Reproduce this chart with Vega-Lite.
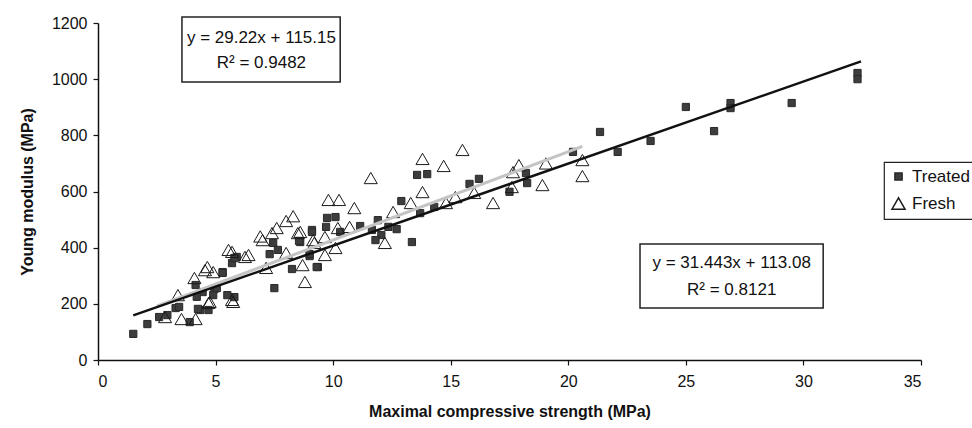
{
  "$schema": "https://vega.github.io/schema/vega-lite/v6.json",
  "width": 823,
  "height": 337,
  "autosize": {"type": "none"},
  "padding": {"left": 98, "top": 23, "right": 51, "bottom": 68},
  "background": "white",
  "config": {
    "view": {"stroke": null},
    "font": "Liberation Sans",
    "axis": {
      "grid": false,
      "domainColor": "#111",
      "domainWidth": 1.5,
      "tickColor": "#111",
      "tickWidth": 1.2,
      "tickSize": 5,
      "labelFont": "Liberation Sans",
      "labelFontSize": 16,
      "labelColor": "#111",
      "titleFont": "Liberation Sans",
      "titleFontSize": 16,
      "titleFontWeight": "bold",
      "titleColor": "#111"
    },
    "legend": {
      "orient": "none",
      "legendX": 786,
      "legendY": 139,
      "strokeColor": "#222",
      "strokeWidth": 1.2,
      "padding": 6,
      "labelFont": "Liberation Sans",
      "labelFontSize": 17,
      "labelOffset": 5,
      "labelColor": "#111",
      "rowPadding": 9,
      "fillColor": "white"
    }
  },
  "datasets": {
    "points": [
      {"x": 23.5, "y": 780, "group": "Treated"},
      {"x": 25.0, "y": 901, "group": "Treated"},
      {"x": 26.2, "y": 815, "group": "Treated"},
      {"x": 26.9, "y": 915, "group": "Treated"},
      {"x": 26.9, "y": 897, "group": "Treated"},
      {"x": 29.5, "y": 915, "group": "Treated"},
      {"x": 32.3, "y": 1022, "group": "Treated"},
      {"x": 32.3, "y": 1000, "group": "Treated"},
      {"x": 21.35, "y": 812, "group": "Treated"},
      {"x": 22.1, "y": 741, "group": "Treated"},
      {"x": 20.2, "y": 741, "group": "Treated"},
      {"x": 16.2, "y": 645, "group": "Treated"},
      {"x": 15.8, "y": 627, "group": "Treated"},
      {"x": 18.2, "y": 666, "group": "Treated"},
      {"x": 18.25, "y": 630, "group": "Treated"},
      {"x": 17.5, "y": 599, "group": "Treated"},
      {"x": 13.57, "y": 659, "group": "Treated"},
      {"x": 14.0, "y": 662, "group": "Treated"},
      {"x": 12.9, "y": 566, "group": "Treated"},
      {"x": 9.74, "y": 506, "group": "Treated"},
      {"x": 10.1, "y": 509, "group": "Treated"},
      {"x": 9.7, "y": 474, "group": "Treated"},
      {"x": 9.1, "y": 463, "group": "Treated"},
      {"x": 11.9, "y": 498, "group": "Treated"},
      {"x": 11.15, "y": 477, "group": "Treated"},
      {"x": 10.3, "y": 456, "group": "Treated"},
      {"x": 11.65, "y": 463, "group": "Treated"},
      {"x": 12.35, "y": 474, "group": "Treated"},
      {"x": 12.7, "y": 466, "group": "Treated"},
      {"x": 12.05, "y": 445, "group": "Treated"},
      {"x": 11.8, "y": 427, "group": "Treated"},
      {"x": 13.35, "y": 420, "group": "Treated"},
      {"x": 13.7, "y": 523, "group": "Treated"},
      {"x": 14.3, "y": 545, "group": "Treated"},
      {"x": 8.6, "y": 420, "group": "Treated"},
      {"x": 9.0, "y": 370, "group": "Treated"},
      {"x": 9.35, "y": 331, "group": "Treated"},
      {"x": 5.9, "y": 367, "group": "Treated"},
      {"x": 5.7, "y": 345, "group": "Treated"},
      {"x": 5.3, "y": 313, "group": "Treated"},
      {"x": 7.45, "y": 417, "group": "Treated"},
      {"x": 7.65, "y": 392, "group": "Treated"},
      {"x": 7.3, "y": 377, "group": "Treated"},
      {"x": 8.55, "y": 424, "group": "Treated"},
      {"x": 9.1, "y": 456, "group": "Treated"},
      {"x": 9.0, "y": 377, "group": "Treated"},
      {"x": 9.3, "y": 331, "group": "Treated"},
      {"x": 7.5, "y": 256, "group": "Treated"},
      {"x": 4.7, "y": 178, "group": "Treated"},
      {"x": 4.35, "y": 178, "group": "Treated"},
      {"x": 5.8, "y": 224, "group": "Treated"},
      {"x": 5.5, "y": 231, "group": "Treated"},
      {"x": 4.45, "y": 242, "group": "Treated"},
      {"x": 4.95, "y": 253, "group": "Treated"},
      {"x": 8.25, "y": 324, "group": "Treated"},
      {"x": 1.5, "y": 93, "group": "Treated"},
      {"x": 2.1, "y": 128, "group": "Treated"},
      {"x": 2.6, "y": 153, "group": "Treated"},
      {"x": 2.95, "y": 160, "group": "Treated"},
      {"x": 3.3, "y": 185, "group": "Treated"},
      {"x": 3.45, "y": 189, "group": "Treated"},
      {"x": 4.25, "y": 182, "group": "Treated"},
      {"x": 3.9, "y": 135, "group": "Treated"},
      {"x": 4.15, "y": 267, "group": "Treated"},
      {"x": 4.2, "y": 225, "group": "Treated"},
      {"x": 4.9, "y": 231, "group": "Treated"},
      {"x": 5.3, "y": 310, "group": "Treated"},
      {"x": 5.8, "y": 363, "group": "Treated"},
      {"x": 5.05, "y": 256, "group": "Treated"},
      {"x": 15.5, "y": 748, "group": "Fresh"},
      {"x": 14.7, "y": 691, "group": "Fresh"},
      {"x": 17.9, "y": 694, "group": "Fresh"},
      {"x": 19.05, "y": 700, "group": "Fresh"},
      {"x": 20.6, "y": 712, "group": "Fresh"},
      {"x": 20.6, "y": 655, "group": "Fresh"},
      {"x": 18.9, "y": 623, "group": "Fresh"},
      {"x": 16.8, "y": 559, "group": "Fresh"},
      {"x": 17.6, "y": 616, "group": "Fresh"},
      {"x": 16.0, "y": 595, "group": "Fresh"},
      {"x": 17.65, "y": 669, "group": "Fresh"},
      {"x": 14.8, "y": 559, "group": "Fresh"},
      {"x": 15.2, "y": 580, "group": "Fresh"},
      {"x": 13.8, "y": 716, "group": "Fresh"},
      {"x": 11.6, "y": 648, "group": "Fresh"},
      {"x": 9.8, "y": 570, "group": "Fresh"},
      {"x": 10.25, "y": 570, "group": "Fresh"},
      {"x": 10.9, "y": 541, "group": "Fresh"},
      {"x": 13.8, "y": 598, "group": "Fresh"},
      {"x": 13.3, "y": 559, "group": "Fresh"},
      {"x": 12.55, "y": 527, "group": "Fresh"},
      {"x": 10.7, "y": 474, "group": "Fresh"},
      {"x": 10.2, "y": 470, "group": "Fresh"},
      {"x": 12.2, "y": 417, "group": "Fresh"},
      {"x": 9.65, "y": 438, "group": "Fresh"},
      {"x": 9.15, "y": 427, "group": "Fresh"},
      {"x": 8.6, "y": 456, "group": "Fresh"},
      {"x": 8.8, "y": 278, "group": "Fresh"},
      {"x": 5.7, "y": 385, "group": "Fresh"},
      {"x": 6.4, "y": 374, "group": "Fresh"},
      {"x": 7.0, "y": 427, "group": "Fresh"},
      {"x": 7.4, "y": 452, "group": "Fresh"},
      {"x": 8.5, "y": 452, "group": "Fresh"},
      {"x": 4.55, "y": 320, "group": "Fresh"},
      {"x": 4.9, "y": 313, "group": "Fresh"},
      {"x": 9.2, "y": 417, "group": "Fresh"},
      {"x": 10.1, "y": 399, "group": "Fresh"},
      {"x": 8.7, "y": 338, "group": "Fresh"},
      {"x": 7.15, "y": 328, "group": "Fresh"},
      {"x": 4.75, "y": 207, "group": "Fresh"},
      {"x": 5.75, "y": 207, "group": "Fresh"},
      {"x": 8.0, "y": 381, "group": "Fresh"},
      {"x": 9.65, "y": 374, "group": "Fresh"},
      {"x": 2.85, "y": 153, "group": "Fresh"},
      {"x": 3.55, "y": 146, "group": "Fresh"},
      {"x": 4.15, "y": 146, "group": "Fresh"},
      {"x": 3.4, "y": 231, "group": "Fresh"},
      {"x": 4.7, "y": 203, "group": "Fresh"},
      {"x": 5.7, "y": 214, "group": "Fresh"},
      {"x": 4.1, "y": 292, "group": "Fresh"},
      {"x": 4.65, "y": 331, "group": "Fresh"},
      {"x": 5.55, "y": 392, "group": "Fresh"},
      {"x": 6.25, "y": 367, "group": "Fresh"},
      {"x": 7.6, "y": 470, "group": "Fresh"},
      {"x": 8.0, "y": 495, "group": "Fresh"},
      {"x": 8.3, "y": 512, "group": "Fresh"},
      {"x": 6.9, "y": 440, "group": "Fresh"}
    ],
    "fits": [
      {"x": 1.5, "y": 159.0, "fit": "Treated"},
      {"x": 32.45, "y": 1063.3, "fit": "Treated"},
      {"x": 2.5, "y": 191.7, "fit": "Fresh"},
      {"x": 20.6, "y": 760.8, "fit": "Fresh"}
    ],
    "boxes": [
      {"x": 3.57, "x2": 10.3, "y": 990, "y2": 1221},
      {"x": 23.05, "x2": 30.84, "y": 185, "y2": 413}
    ],
    "eqs": [
      {"x": 6.95, "y": 1147, "label": "y = 29.22x + 115.15"},
      {"x": 6.95, "y": 1058, "label": "R² = 0.9482"},
      {"x": 26.95, "y": 345, "label": "y = 31.443x + 113.08"},
      {"x": 26.95, "y": 249, "label": "R² = 0.8121"}
    ]
  },
  "layer": [
    {
      "data": {"name": "points"},
      "mark": {"type": "point", "strokeWidth": 1, "opacity": 1},
      "encoding": {
        "x": {
          "field": "x", "type": "quantitative",
          "scale": {"domain": [0, 35], "nice": false},
          "axis": {"values": [0, 5, 10, 15, 20, 25, 30, 35], "title": "Maximal compressive strength (MPa)", "labelPadding": 8, "titlePadding": 14}
        },
        "y": {
          "field": "y", "type": "quantitative",
          "scale": {"domain": [0, 1200], "nice": false},
          "axis": {"values": [0, 200, 400, 600, 800, 1000, 1200], "format": "d", "title": "Young modulus (MPa)", "labelPadding": 6, "titlePadding": 16}
        },
        "shape": {"field": "group", "type": "nominal", "scale": {"domain": ["Treated", "Fresh"], "range": ["square", "triangle-up"]}, "legend": {"title": null}},
        "fill": {"field": "group", "type": "nominal", "scale": {"domain": ["Treated", "Fresh"], "range": ["#3d3d3d", "transparent"]}, "legend": {"title": null}},
        "stroke": {"field": "group", "type": "nominal", "scale": {"domain": ["Treated", "Fresh"], "range": ["#2a2a2a", "#1a1a1a"]}, "legend": {"title": null}},
        "size": {"field": "group", "type": "nominal", "scale": {"domain": ["Treated", "Fresh"], "range": [52, 170]}, "legend": {"title": null}}
      }
    },
    {
      "data": {"name": "fits"},
      "transform": [{"filter": "datum.fit === 'Fresh'"}],
      "mark": {"type": "line", "color": "#c4c4c4", "strokeWidth": 3},
      "encoding": {
        "x": {"field": "x", "type": "quantitative"},
        "y": {"field": "y", "type": "quantitative"}
      }
    },
    {
      "data": {"name": "fits"},
      "transform": [{"filter": "datum.fit === 'Treated'"}],
      "mark": {"type": "line", "color": "#111", "strokeWidth": 2.5},
      "encoding": {
        "x": {"field": "x", "type": "quantitative"},
        "y": {"field": "y", "type": "quantitative"}
      }
    },
    {
      "data": {"name": "boxes"},
      "mark": {"type": "rect", "fill": "white", "stroke": "#222", "strokeWidth": 1.5},
      "encoding": {
        "x": {"field": "x", "type": "quantitative"},
        "x2": {"field": "x2"},
        "y": {"field": "y", "type": "quantitative"},
        "y2": {"field": "y2"}
      }
    },
    {
      "data": {"name": "eqs"},
      "mark": {"type": "text", "font": "Liberation Sans", "fontSize": 17, "color": "#111", "align": "center", "baseline": "middle"},
      "encoding": {
        "x": {"field": "x", "type": "quantitative"},
        "y": {"field": "y", "type": "quantitative"},
        "text": {"field": "label"}
      }
    }
  ]
}
